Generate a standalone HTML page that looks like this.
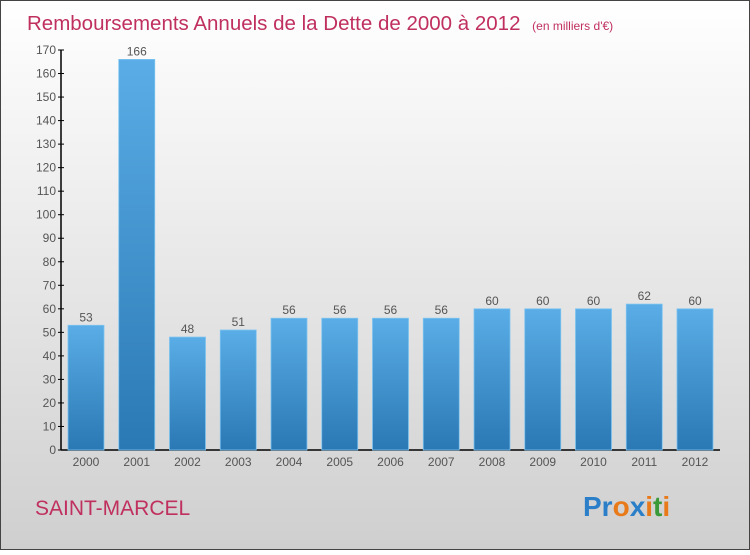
<!DOCTYPE html>
<html><head><meta charset="utf-8"><style>
body{margin:0;width:750px;height:550px;overflow:hidden;font-family:"Liberation Sans",sans-serif}
</style></head><body>
<svg width="750" height="550" xmlns="http://www.w3.org/2000/svg">
<defs>
<linearGradient id="bg" x1="0" y1="0" x2="0" y2="1"><stop offset="0" stop-color="#ffffff"/><stop offset="1" stop-color="#cfcfcf"/></linearGradient>
<linearGradient id="bar" x1="0" y1="0" x2="0" y2="1"><stop offset="0" stop-color="#5aade6"/><stop offset="1" stop-color="#2a78b4"/></linearGradient>
</defs>
<rect x="0.5" y="0.5" width="749" height="549" fill="url(#bg)" stroke="#444"/>
<text x="27" y="30" font-size="20.5" fill="#c0305e">Remboursements Annuels de la Dette de 2000 à 2012 <tspan font-size="12" dx="6">(en milliers d'€)</tspan></text>
<g id="axes"></g>
<g id="bars"></g>
<text x="35" y="515" font-size="21" fill="#c0305e">SAINT-MARCEL</text>
<g font-size="28" font-weight="bold">
<text x="583" y="516"><tspan fill="#2a7fc8">Pr</tspan><tspan fill="#e87a1a">o</tspan><tspan fill="#2a7fc8">x</tspan><tspan fill="#e87a1a">i</tspan><tspan fill="#3a9a3a">t</tspan><tspan fill="#e87a1a">i</tspan></text>
</g>
</svg>
<script>
const years=["2000","2001","2002","2003","2004","2005","2006","2007","2008","2009","2010","2011","2012"];
const values=[53,166,48,51,56,56,56,56,60,60,60,62,60];
const ticks=[0,10,20,30,40,50,60,70,80,90,100,110,120,130,140,150,160,170];
const NS="http://www.w3.org/2000/svg";
const y0=450,yTop=50,maxV=170;
const yS=v=>y0-(v/maxV)*(y0-yTop);
const xC=i=>86+i*50.75;
const ax=document.getElementById('axes'),bg=document.getElementById('bars');
function mk(t,a,p){const e=document.createElementNS(NS,t);for(const k in a)e.setAttribute(k,a[k]);p.appendChild(e);return e;}
const yl=mk('line',{x1:61,y1:yTop,x2:61,y2:y0,stroke:'#000','stroke-width':1.5},ax);


const xl=mk('line',{x1:61,y1:y0,x2:720,y2:y0,stroke:'#000','stroke-width':1.5},ax);


ticks.forEach(t=>{
 mk('line',{x1:58,y1:yS(t),x2:64,y2:yS(t),stroke:'#000'},ax);
 const tx=mk('text',{x:56,y:yS(t)+4,'text-anchor':'end','font-size':12,fill:'#555'},ax);
 tx.textContent=t;
 
 
});
years.forEach((yr,i)=>{
 const v=values[i];
 const r=mk('rect',{x:xC(i)-18,y:yS(v),width:36,height:y0-yS(v),fill:'url(#bar)',stroke:'#7cc3f0','stroke-width':0.8},bg);
 
 
 const lb=mk('text',{x:xC(i),y:yS(v)-4,'text-anchor':'middle','font-size':12,fill:'#555'},bg);
 lb.textContent=v;
 
 
 const xt=mk('text',{x:xC(i),y:466,'text-anchor':'middle','font-size':12,fill:'#555'},bg);
 xt.textContent=yr;
 
 
});
</script>
</body></html>
